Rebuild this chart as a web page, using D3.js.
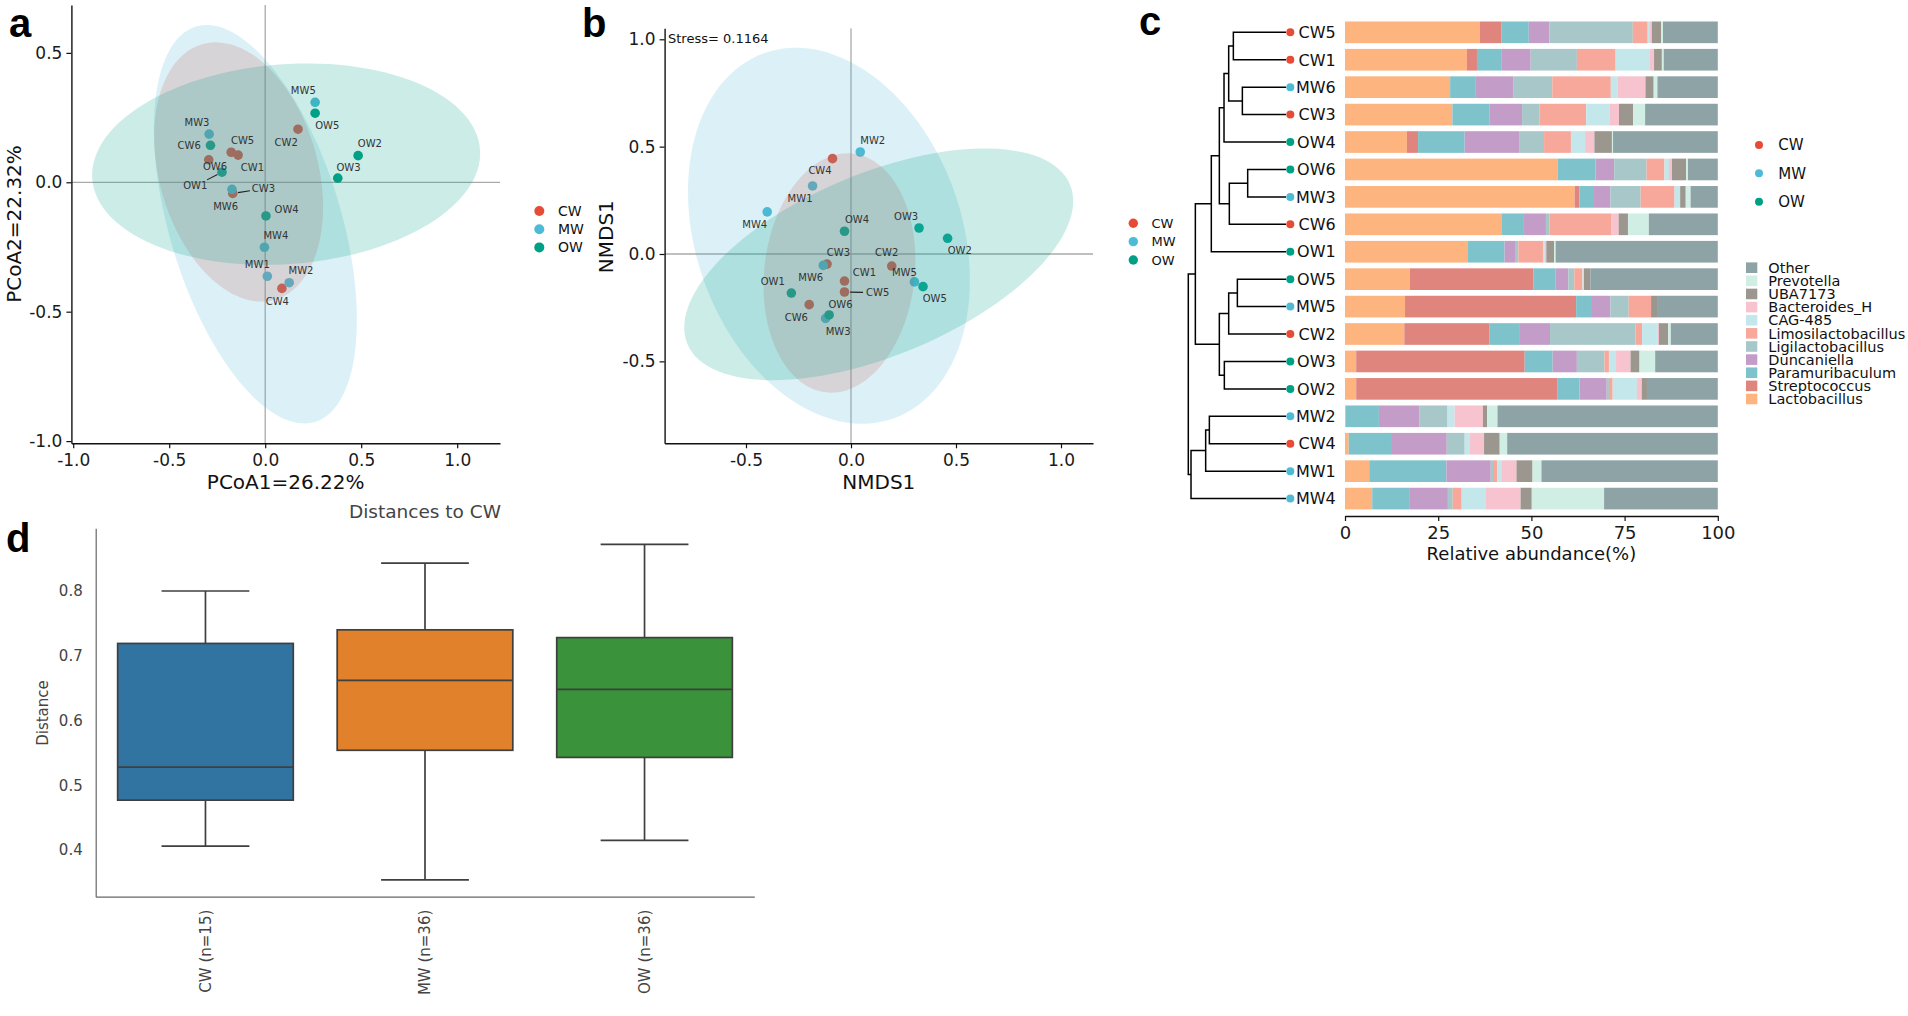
<!DOCTYPE html>
<html>
<head>
<meta charset="utf-8">
<script src="https://cdn.jsdelivr.net/npm/d3@7"></script>
<style>
  body { margin: 0; background: #fff; }
  svg { display: block; }
  text { font-family: "DejaVu Sans", sans-serif; }
</style>
</head>
<body>
<svg id="fig" width="1908" height="1016"></svg>
<script>
// ====================== DATA ======================
const groups = ["CW", "MW", "OW"];
const groupColors = ["#E64B35", "#4DBBD5", "#00A087"];

const sampleIds = ["CW1","CW2","CW3","CW4","CW5","CW6",
                   "MW1","MW2","MW3","MW4","MW5","MW6",
                   "OW1","OW2","OW3","OW4","OW5","OW6"];

// Panel a: PCoA coordinates
const pcoa1 = [-0.141, 0.171, -0.169, 0.087, -0.177, -0.294,
                0.011, 0.125, -0.292, -0.004, 0.260, -0.173,
               -0.225, 0.484, 0.378, 0.004, 0.260, -0.285];
const pcoa2 = [ 0.105, 0.205, -0.043, -0.410, 0.116, 0.087,
               -0.363, -0.388, 0.186, -0.251, 0.309, -0.027,
                0.039, 0.103, 0.016, -0.130, 0.267, 0.143];
const pcoaTicksX = [-1.0, -0.5, 0.0, 0.5, 1.0];
const pcoaTicksY = [-1.0, -0.5, 0.0, 0.5];
// confidence ellipses: [centerX, centerY, axis1X, axis1Y, axis2X, axis2Y] (data units), order CW, MW, OW
const pcoaEllipseCW = [-0.1385, 0.040, -0.1875, 0.494, 0.398, 0.083];
const pcoaEllipseMW = [-0.051, -0.162, -0.309, 0.764, 0.429, 0.095];
const pcoaEllipseOW = [0.109, 0.070, 1.010, 0.057, 0.039, -0.385];

// Panel b: NMDS coordinates
const nmds1 = [-0.031, 0.194, -0.114, -0.088, -0.031, -0.199,
               -0.183, 0.044, -0.121, -0.399, 0.302, -0.132,
               -0.284, 0.460, 0.324, -0.031, 0.343, -0.104];
const nmds2 = [-0.126, -0.056, -0.047, 0.444, -0.177, -0.236,
                0.317, 0.475, -0.300, 0.196, -0.130, -0.053,
               -0.182, 0.073, 0.121, 0.106, -0.152, -0.284];
const nmdsTicksX = [-0.5, 0.0, 0.5, 1.0];
const nmdsTicksY = [-0.5, 0.0, 0.5, 1.0];
const nmdsStress = 0.1164;
const nmdsEllipseCW = [-0.055, -0.0885, 0.063, 0.556, 0.356, -0.038];
const nmdsEllipseMW = [-0.105, 0.085, -0.307, 0.851, 0.597, 0.206];
const nmdsEllipseOW = [0.132, -0.048, 0.911, 0.371, 0.167, -0.392];

// Panel c: samples (top to bottom, dendrogram order) and genus abundances (%)
const barSamples = ["CW5","CW1","MW6","CW3","OW4","OW6","MW3","CW6","OW1",
                    "OW5","MW5","CW2","OW3","OW2","MW2","CW4","MW1","MW4"];
const genera = ["Lactobacillus","Streptococcus","Paramuribaculum","Duncaniella",
                "Ligilactobacillus","Limosilactobacillus","CAG-485","Bacteroides_H",
                "UBA7173","Prevotella","Other"];
const genusColors = ["#FDB47E","#E0857E","#7EC3CB","#C39DC8","#A8C7C8","#F8A89A",
                     "#C3E7EB","#F7C3CF","#9B978F","#D1EEE5","#8DA3A5"];
const lactobacillus       = [36.2,32.7,28.2,28.8,16.6,57.0,61.6,42.1,33.0,17.4,16.1,15.9, 3.0, 3.0, 0.2, 1.0, 6.5, 7.3];
const streptococcus       = [ 5.7, 2.7, 0.0, 0.0, 3.0, 0.0, 1.3, 0.0, 0.0,33.2,45.9,22.9,45.2,53.9, 0.0, 0.0, 0.0, 0.0];
const paramuribaculum     = [ 7.4, 6.5, 6.9, 9.9,12.5,10.2, 3.9, 5.9, 9.8, 5.8, 4.0, 7.9, 7.5, 6.0, 8.9,11.6,20.7, 9.9];
const duncaniella         = [ 5.5, 7.9,10.0, 8.8,14.6, 5.0, 4.4, 5.9, 2.8, 3.5, 5.2, 8.3, 6.5, 7.3,10.9,14.7,11.9,10.4];
const ligilactobacillus   = [22.4,12.4,10.5, 4.7, 6.7, 8.7, 8.1, 0.9, 0.9, 1.6, 4.9,22.9, 7.4, 0.6, 7.5, 4.8, 0.6, 1.3];
const limosilactobacillus = [ 4.0,10.4,15.7,12.5, 7.2, 4.8, 9.1,16.7, 6.6, 2.2, 6.0, 1.8, 1.2, 1.0, 0.0, 0.0, 1.1, 2.4];
const cag485              = [ 0.4, 9.2, 1.9, 6.2, 3.8, 1.2, 1.5, 0.0, 0.5, 0.4, 0.0, 4.1, 1.9, 6.5, 1.9, 1.4, 1.1, 6.5];
const bacteroidesH        = [ 0.7, 1.1, 7.4, 2.6, 2.5, 0.8, 0.0, 1.9, 0.4, 0.0, 0.0, 0.4, 3.9, 1.3, 7.6, 3.8, 4.1, 9.3];
const uba7173             = [ 2.5, 2.1, 2.2, 3.8, 4.7, 3.8, 1.5, 2.5, 2.1, 1.7, 1.6, 2.5, 2.4, 1.4, 1.1, 4.2, 4.3, 3.0];
const prevotella          = [ 0.5, 0.5, 1.0, 3.2, 0.3, 0.5, 1.3, 5.6, 0.4, 0.0, 0.0, 0.7, 4.2, 0.0, 2.8, 2.0, 2.4,19.4];
const other               = [14.7,14.5,16.2,19.5,28.1, 8.0, 7.3,18.5,43.5,34.2,16.3,12.6,16.8,19.0,59.1,56.5,47.3,30.5];
const genusValues = [lactobacillus, streptococcus, paramuribaculum, duncaniella, ligilactobacillus,
                     limosilactobacillus, cag485, bacteroidesH, uba7173, prevotella, other];
const abundanceTicks = [0, 25, 50, 75, 100];
// hierarchical clustering merges (indices into barSamples, new nodes numbered from 18)
const mergeLeft   = [0, 2, 18, 20, 5, 22, 21, 24, 9, 26, 12, 27, 25, 14, 31, 32, 30];
const mergeRight  = [1, 3, 19, 4, 6, 7, 23, 8, 10, 11, 13, 28, 29, 15, 16, 17, 33];
const mergeHeight = [0.485, 0.402, 0.528, 0.571, 0.353, 0.522, 0.614, 0.688, 0.448, 0.528,
                     0.568, 0.614, 0.835, 0.706, 0.740, 0.875, 0.900];

// Panel d: box plot statistics of distances to CW
const boxCategories = ["CW (n=15)", "MW (n=36)", "OW (n=36)"];
const boxColors = ["#3274A1", "#E1812C", "#3A923A"];
const whiskerLow  = [0.406, 0.354, 0.415];
const quartile1   = [0.477, 0.554, 0.543];
const medianVals  = [0.528, 0.662, 0.648];
const quartile3   = [0.719, 0.740, 0.728];
const whiskerHigh = [0.800, 0.843, 0.872];
const distanceTicks = [0.4, 0.5, 0.6, 0.7, 0.8];

// ====================== LAYOUT (label placement offsets in px) ======================
const pcoaLabelOffsets = [[14.3,12.3],[-11.8,12.7],[30.7,-4.7],[-4.6,12.7],[11.4,-11.7],[-19.6,-14.3],
                          [-10,-11.7],[11.8,-12],[-12.1,-11.7],[11.4,-11.7],[-11.8,-12],[-6.4,17.3],
                          [-26.8,13.7],[11.8,-12],[10.7,-10.7],[20.7,-7],[12.1,12],[4.6,20.7]];
const pcoaLabelSegments = ["CW3", "OW1"];
const nmdsLabelOffsets = [[20,-8.3],[-5,-14],[11.4,-12],[-12.5,12],[33.2,0.7],[-12.9,12.7],
                          [-12.5,12.7],[12.5,-11.7],[12.5,12.7],[-12.5,12],[-10,-9.3],[-12.5,12],
                          [-18.6,-11.7],[12.1,12],[-12.9,-12],[12.5,-12],[11.8,11.7],[11.4,-10.7]];
const nmdsLabelSegments = ["CW5"];

// ====================== DRAWING ======================
const svg = d3.select("#fig");
const fmt1 = d => d.toFixed(1);
const groupColor = s => groupColors[groups.indexOf(s.slice(0, 2))];

function ellipsePath(xs, ys, e) {
  const pts = d3.range(0, 121).map(i => {
    const t = i / 120 * 2 * Math.PI;
    return [xs(e[0] + e[2] * Math.cos(t) + e[4] * Math.sin(t)),
            ys(e[1] + e[3] * Math.cos(t) + e[5] * Math.sin(t))];
  });
  return d3.line()(pts) + "Z";
}

function styleAxis(g, size, color) {
  g.selectAll(".domain").attr("stroke", color).attr("stroke-width", 1.4);
  g.selectAll(".tick line").attr("stroke", color).attr("stroke-width", 1.2);
  g.selectAll(".tick text").attr("fill", "#1a1a1a").style("font-size", size + "px")
    .style("font-family", "DejaVu Sans");
}

function ordinationPanel(opts) {
  const { xs, ys, xv, yv, ellipses, offsets, segs, ticksX, ticksY, id } = opts;
  const g = svg.append("g");
  const [x0, x1] = xs.range(), [y0, y1] = ys.range();
  svg.append("clipPath").attr("id", id).append("rect")
    .attr("x", x0).attr("y", y1).attr("width", x1 - x0).attr("height", y0 - y1);
  const plot = g.append("g").attr("clip-path", `url(#${id})`);
  // zero reference lines
  plot.append("line").attr("x1", x0).attr("x2", x1).attr("y1", ys(0)).attr("y2", ys(0))
    .attr("stroke", "#aaaaaa").attr("stroke-width", 1.3);
  plot.append("line").attr("x1", xs(0)).attr("x2", xs(0)).attr("y1", y0).attr("y2", y1)
    .attr("stroke", "#aaaaaa").attr("stroke-width", 1.3);
  // points
  plot.selectAll("circle.pt").data(sampleIds).join("circle").attr("class", "pt")
    .attr("cx", (d, i) => xs(xv[i])).attr("cy", (d, i) => ys(yv[i])).attr("r", 4.8)
    .attr("fill", d => groupColor(d));
  // ellipses
  plot.selectAll("path.ell").data(ellipses).join("path").attr("class", "ell")
    .attr("d", e => ellipsePath(xs, ys, e))
    .attr("fill", (e, i) => groupColors[i]).attr("fill-opacity", 0.2).attr("stroke", "none");
  // labels
  sampleIds.forEach((s, i) => {
    const px = xs(xv[i]), py = ys(yv[i]);
    const [dx, dy] = offsets[i];
    if (segs.includes(s)) {
      plot.append("line")
        .attr("x1", px + dx * 0.17).attr("y1", py + dy * 0.17)
        .attr("x2", px + dx * 0.56).attr("y2", py + dy * 0.56)
        .attr("stroke", "#222").attr("stroke-width", 1.1);
    }
    plot.append("text").attr("x", px + dx).attr("y", py + dy).attr("dy", "0.36em")
      .attr("text-anchor", "middle").attr("fill", "#333").style("font-size", "10px").text(s);
  });
  // axes
  const gx = g.append("g").attr("transform", `translate(0,${y0})`)
    .call(d3.axisBottom(xs).tickValues(ticksX).tickFormat(fmt1).tickSize(5).tickSizeOuter(0).tickPadding(6));
  styleAxis(gx, 17, "#111");
  const gy = g.append("g").attr("transform", `translate(${x0},0)`)
    .call(d3.axisLeft(ys).tickValues(ticksY).tickFormat(fmt1).tickSize(5).tickSizeOuter(0).tickPadding(4));
  styleAxis(gy, 17, "#111");
  return g;
}

// ---------- Panel a ----------
const axA = d3.scaleLinear().domain([-1.0094, 1.223]).range([71.4, 500]);
const ayA = d3.scaleLinear().domain([-1.0085, 0.685]).range([443.3, 5]);
ordinationPanel({ xs: axA, ys: ayA, xv: pcoa1, yv: pcoa2,
  ellipses: [pcoaEllipseCW, pcoaEllipseMW, pcoaEllipseOW],
  offsets: pcoaLabelOffsets, segs: pcoaLabelSegments, ticksX: pcoaTicksX, ticksY: pcoaTicksY, id: "clipA" });
svg.append("text").attr("x", 285.7).attr("y", 489).attr("text-anchor", "middle")
  .style("font-size", "20px").attr("fill", "#111").text("PCoA1=26.22%");
svg.append("text").attr("transform", "translate(21,224) rotate(-90)").attr("text-anchor", "middle")
  .style("font-size", "20px").attr("fill", "#111").text("PCoA2=22.32%");
// legend a
groups.forEach((gname, i) => {
  svg.append("circle").attr("cx", 539.3).attr("cy", 211 + i * 18.2).attr("r", 5).attr("fill", groupColors[i]);
  svg.append("text").attr("x", 558).attr("y", 211 + i * 18.2).attr("dy", "0.36em")
    .style("font-size", "14px").attr("fill", "#111").text(gname);
});

// ---------- Panel b ----------
const axB = d3.scaleLinear().domain([-0.8876, 1.1524]).range([664.6, 1093]);
const ayB = d3.scaleLinear().domain([-0.8817, 1.0512]).range([443.3, 28.3]);
ordinationPanel({ xs: axB, ys: ayB, xv: nmds1, yv: nmds2,
  ellipses: [nmdsEllipseCW, nmdsEllipseMW, nmdsEllipseOW],
  offsets: nmdsLabelOffsets, segs: nmdsLabelSegments, ticksX: nmdsTicksX, ticksY: nmdsTicksY, id: "clipB" });
svg.append("text").attr("x", 878.8).attr("y", 489).attr("text-anchor", "middle")
  .style("font-size", "20px").attr("fill", "#111").text("NMDS1");
svg.append("text").attr("transform", "translate(613,236.7) rotate(-90)").attr("text-anchor", "middle")
  .style("font-size", "20px").attr("fill", "#111").text("NMDS1");
svg.append("text").attr("x", 668).attr("y", 42.5).style("font-size", "13px").attr("fill", "#111")
  .text("Stress= " + nmdsStress);

// ---------- Panel c ----------
const xC = d3.scaleLinear().domain([0, 100]).range([1345, 1717.8]);
const yC = d3.scaleBand().domain(barSamples).range([18.6, 512.3]).paddingInner(0.21).paddingOuter(0.105);
const stackRows = barSamples.map((s, i) => {
  const o = { sample: s };
  genera.forEach((gname, j) => { o[gname] = genusValues[j][i]; });
  return o;
});
const series = d3.stack().keys(genera)(stackRows);
const gc = svg.append("g");
gc.selectAll("g.layer").data(series).join("g").attr("class", "layer")
  .attr("fill", (d, i) => genusColors[i])
  .selectAll("rect").data(d => d).join("rect")
  .attr("x", d => xC(d[0])).attr("width", d => Math.max(0, xC(d[1]) - xC(d[0])))
  .attr("y", d => yC(d.data.sample)).attr("height", yC.bandwidth());
const gxC = gc.append("g").attr("transform", "translate(0,516)")
  .call(d3.axisBottom(xC).tickValues(abundanceTicks).tickSize(5).tickSizeOuter(0).tickPadding(5));
styleAxis(gxC, 18, "#111");
gc.append("text").attr("x", xC(50)).attr("y", 560).attr("text-anchor", "middle")
  .style("font-size", "18px").attr("fill", "#111").text("Relative abundance(%)");

// dendrogram
const dX = d3.scaleLinear().domain([0, 0.9]).range([1286, 1188.3]);
const nodeX = barSamples.map(() => dX(0));
const nodeY = barSamples.map(s => yC(s) + yC.bandwidth() / 2);
mergeLeft.forEach((l, k) => {
  const r = mergeRight[k], x = dX(mergeHeight[k]);
  gc.append("path")
    .attr("d", `M${nodeX[l]},${nodeY[l]}H${x}V${nodeY[r]}H${nodeX[r]}`)
    .attr("fill", "none").attr("stroke", "#000").attr("stroke-width", 1.5);
  nodeX.push(x);
  nodeY.push((nodeY[l] + nodeY[r]) / 2);
});
barSamples.forEach((s, i) => {
  gc.append("circle").attr("cx", 1290.3).attr("cy", nodeY[i]).attr("r", 4).attr("fill", groupColor(s));
  gc.append("text").attr("x", 1335.7).attr("y", nodeY[i]).attr("dy", "0.36em").attr("text-anchor", "end")
    .style("font-size", "16px").attr("fill", "#111").text(s);
});
// legends c
groups.forEach((gname, i) => {
  gc.append("circle").attr("cx", 1133.3).attr("cy", 223.3 + i * 18.35).attr("r", 4.7).attr("fill", groupColors[i]);
  gc.append("text").attr("x", 1151.5).attr("y", 223.3 + i * 18.35).attr("dy", "0.36em")
    .style("font-size", "13px").attr("fill", "#111").text(gname);
  gc.append("circle").attr("cx", 1759).attr("cy", 145 + i * 28.35).attr("r", 4).attr("fill", groupColors[i]);
  gc.append("text").attr("x", 1778.3).attr("y", 145 + i * 28.35).attr("dy", "0.36em")
    .style("font-size", "15px").attr("fill", "#111").text(gname);
});
const legendGenera = genera.slice().reverse();
legendGenera.forEach((gname, i) => {
  const y = 267.7 + i * 13.13;
  gc.append("rect").attr("x", 1746).attr("y", y - 5.3).attr("width", 11.3).attr("height", 10.6)
    .attr("fill", genusColors[genera.indexOf(gname)]);
  gc.append("text").attr("x", 1768.3).attr("y", y).attr("dy", "0.36em")
    .style("font-size", "14.5px").attr("fill", "#111").text(gname);
});

// ---------- Panel d ----------
const xD = d3.scaleBand().domain(boxCategories).range([95.7, 754.3]).paddingInner(0.2).paddingOuter(0.1);
const yD = d3.scaleLinear().domain([0.3279, 0.8968]).range([896.7, 528.3]);
const gd = svg.append("g");
const boxStroke = "#3f3f3f";
boxCategories.forEach((c, i) => {
  const x0 = xD(c), bw = xD.bandwidth(), xm = x0 + bw / 2;
  gd.append("line").attr("x1", xm).attr("x2", xm).attr("y1", yD(quartile3[i])).attr("y2", yD(whiskerHigh[i]))
    .attr("stroke", boxStroke).attr("stroke-width", 1.7);
  gd.append("line").attr("x1", xm).attr("x2", xm).attr("y1", yD(quartile1[i])).attr("y2", yD(whiskerLow[i]))
    .attr("stroke", boxStroke).attr("stroke-width", 1.7);
  [whiskerHigh[i], whiskerLow[i]].forEach(v => {
    gd.append("line").attr("x1", xm - bw / 4).attr("x2", xm + bw / 4).attr("y1", yD(v)).attr("y2", yD(v))
      .attr("stroke", boxStroke).attr("stroke-width", 1.7);
  });
  gd.append("rect").attr("x", x0).attr("width", bw)
    .attr("y", yD(quartile3[i])).attr("height", yD(quartile1[i]) - yD(quartile3[i]))
    .attr("fill", boxColors[i]).attr("stroke", boxStroke).attr("stroke-width", 1.7);
  gd.append("line").attr("x1", x0).attr("x2", x0 + bw).attr("y1", yD(medianVals[i])).attr("y2", yD(medianVals[i]))
    .attr("stroke", boxStroke).attr("stroke-width", 1.7);
});
const gyD = gd.append("g").attr("transform", "translate(95.7,0)")
  .call(d3.axisLeft(yD).tickValues(distanceTicks).tickFormat(fmt1).tickSize(0).tickSizeOuter(0).tickPadding(13));
gyD.selectAll(".domain").attr("stroke", "#666").attr("stroke-width", 1.2);
gyD.selectAll(".tick text").attr("fill", "#444").style("font-size", "15px");
const gxD = gd.append("g").attr("transform", "translate(0,896.7)")
  .call(d3.axisBottom(xD).tickSize(0).tickSizeOuter(0).tickPadding(0));
gxD.selectAll(".domain").attr("stroke", "#666").attr("stroke-width", 1.2);
gxD.selectAll(".tick text").attr("fill", "#444").style("font-size", "15px")
  .attr("transform", "translate(0,13) rotate(-90)").attr("text-anchor", "end").attr("dy", "0.35em").attr("y", 0).attr("x", 0);
gd.append("text").attr("x", 425).attr("y", 518).attr("text-anchor", "middle")
  .style("font-size", "18.5px").attr("fill", "#444").text("Distances to CW");
gd.append("text").attr("transform", "translate(48,713) rotate(-90)").attr("text-anchor", "middle")
  .style("font-size", "15px").attr("fill", "#444").text("Distance");

// ---------- Panel letters ----------
const panelLetters = [["a", 9, 37], ["b", 582, 37], ["c", 1139, 35], ["d", 6, 552]];
panelLetters.forEach(([t, x, y]) => {
  svg.append("text").attr("x", x).attr("y", y).text(t)
    .style("font-family", "'Liberation Sans', Arial, sans-serif").style("font-weight", "bold")
    .style("font-size", "40px").attr("fill", "#000");
});
</script>
</body>
</html>
